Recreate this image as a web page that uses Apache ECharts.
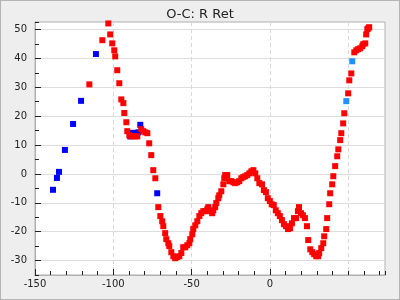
<!DOCTYPE html>
<html>
<head>
<meta charset="utf-8">
<script src="https://cdn.jsdelivr.net/npm/echarts@6/dist/echarts.min.js"></script>
<style>
html,body{margin:0;padding:0;background:#eeeeee;}
#c{width:400px;height:300px;box-sizing:border-box;border:1px solid #b4b4b4;}
</style>
</head>
<body>
<div id="c"></div>
<script>
const title = "O-C: R Ret";
const xTicks = [-150, -100, -50, 0, 50];
const yTicks = [-30, -20, -10, 0, 10, 20, 30, 40, 50];

const redX = [-115.3,-107.0,-103.2,-102.0,-100.7,-99.4,-98.8,-97.5,-96.2,-94.9,-93.6,-93.0,-91.7,-91.1,-89.8,-88.4,-86.0,-84.7,-82.2,-80.9,-79.6,-78.3,-77.1,-75.8,-74.5,-73.2,-71.3,-70.0,-68.8,-68.1,-66.9,-66.2,-64.9,-64.3,-63.0,-61.7,-60.5,-59.2,-57.9,-56.6,-55.4,-54.1,-52.8,-51.5,-50.9,-49.6,-49.0,-47.7,-46.4,-45.1,-43.9,-42.6,-41.3,-40.0,-39.4,-38.1,-36.9,-36.2,-35.0,-34.3,-33.0,-32.4,-31.1,-29.8,-29.2,-28.6,-27.3,-26.0,-24.7,-23.4,-22.2,-20.9,-19.6,-18.3,-17.0,-15.8,-14.5,-13.2,-11.9,-10.6,-9.4,-8.1,-6.8,-5.1,-3.9,-2.6,-1.4,-0.1,1.1,2.4,3.7,5.0,6.3,7.6,8.9,10.2,11.5,12.8,14.0,15.3,16.6,17.8,18.5,19.8,21.0,22.3,23.6,24.4,25.7,27.0,28.2,29.5,30.8,31.4,32.7,34.0,34.6,35.9,36.5,37.8,38.4,39.7,40.4,41.6,42.9,43.6,44.8,45.5,46.7,47.4,49.9,50.6,51.9,53.8,55.1,56.3,57.6,58.9,59.5,60.8,61.4,62.1,62.7,63.3];
const redY = [31.0,46.3,52.1,48.3,45.2,42.8,40.7,35.9,31.4,25.8,24.5,21.1,17.9,14.8,13.4,13.0,13.0,13.0,15.5,14.8,14.4,14.1,10.6,6.5,1.3,-1.5,-11.5,-14.6,-16.4,-18.1,-20.5,-22.6,-24.0,-25.0,-27.1,-28.5,-29.2,-28.8,-28.5,-27.4,-25.4,-25.4,-24.7,-24.0,-22.6,-20.9,-19.1,-17.8,-16.4,-14.6,-13.6,-12.9,-12.9,-12.2,-11.5,-12.9,-13.6,-12.6,-11.5,-10.1,-8.4,-7.4,-6.0,-3.6,-1.5,-0.4,-0.4,-2.5,-2.5,-2.9,-3.2,-2.9,-2.5,-1.5,-1.1,-0.8,-0.4,0.2,0.9,1.3,0.2,-1.5,-3.2,-3.6,-5.6,-6.3,-8.4,-9.4,-10.5,-10.8,-12.6,-13.6,-14.6,-16.0,-17.4,-18.1,-19.1,-18.8,-17.1,-15.3,-15.3,-12.9,-11.5,-13.6,-14.3,-15.3,-18.1,-22.9,-26.1,-27.1,-27.8,-28.5,-28.5,-27.4,-25.7,-24.0,-21.6,-19.1,-15.3,-10.5,-6.7,-3.6,-0.8,2.7,6.1,8.5,11.7,14.1,17.5,21.0,27.9,32.4,34.8,42.1,42.8,43.2,43.5,44.2,44.9,45.2,48.3,50.1,50.4,50.8];

const blueX = [-138.5,-136.0,-134.7,-130.9,-125.7,-120.6,-111.1,-89.2,-88.0,-86.5,-84.0,-82.8,-72.0];
const blueY = [-5.5,-1.4,0.7,8.3,17.3,25.3,41.5,13.0,14.2,14.2,14.4,17.0,-6.7];

const lightX = [48.7, 52.5];
const lightY = [25.2, 39.0];

function pairs(xs, ys){ return xs.map((x,i)=>[x, ys[i]]); }

const X_MIN = -150, X_MAX = 73.4, Y_MIN = -35, Y_MAX = 52.6;
const fontFam = 'DejaVu Sans';
const textCol = '#222';
const lineCol = '#b0b0b0';

const chart = echarts.init(document.getElementById('c'), null, {renderer:'canvas'});
chart.setOption({
  animation:false,
  backgroundColor:'#eeeeee',
  title:{text:title,left:'center',top:2,textStyle:{fontFamily:fontFam,fontSize:13,fontWeight:'normal',color:textCol}},
  grid:{left:34,right:14,top:21,bottom:24,show:true,backgroundColor:'#ffffff',borderColor:lineCol,borderWidth:1,z:0},
  xAxis:[
    {type:'value',min:X_MIN,max:X_MAX,interval:50,z:3,
     axisLine:{show:true,onZero:false,lineStyle:{color:lineCol}},
     axisTick:{show:true,inside:true,length:6,lineStyle:{color:'#222',width:1},customValues:xTicks},
     axisLabel:{customValues:xTicks,fontFamily:fontFam,fontSize:10,color:textCol,margin:4,showMaxLabel:false},
     splitLine:{show:true,lineStyle:{color:'#d8d8d8',type:[4,3],width:1}}},
    {type:'value',min:X_MIN,max:X_MAX,interval:10,position:'bottom',z:3,
     axisLine:{show:true,onZero:false,lineStyle:{color:lineCol}},
     axisTick:{show:true,inside:true,length:4,lineStyle:{color:'#222',width:1}},
     axisLabel:{show:false},splitLine:{show:false}}
  ],
  yAxis:[
    {type:'value',min:Y_MIN,max:Y_MAX,z:3,
     axisLine:{show:true,onZero:false,lineStyle:{color:lineCol}},
     axisTick:{show:true,inside:true,length:6,lineStyle:{color:'#222',width:1},customValues:yTicks},
     axisLabel:{customValues:yTicks,fontFamily:fontFam,fontSize:10,color:textCol,margin:8},
     splitLine:{show:true,lineStyle:{color:'#dddddd',width:1}}},
    {type:'value',min:Y_MIN,max:Y_MAX,interval:5,position:'left',z:3,
     axisLine:{show:true,onZero:false,lineStyle:{color:lineCol}},
     axisTick:{show:true,inside:true,length:4,lineStyle:{color:'#222',width:1}},
     axisLabel:{show:false},splitLine:{show:false}}
  ],
  series:[
    {type:'scatter',data:pairs(blueX,blueY),symbol:'rect',symbolSize:6,itemStyle:{color:'#0000ff',opacity:1},z:4},
    {type:'scatter',data:pairs(redX,redY),symbol:'rect',symbolSize:6,itemStyle:{color:'#ff0000',opacity:1},z:5},
    {type:'scatter',data:pairs(lightX,lightY),symbol:'rect',symbolSize:6,itemStyle:{color:'#1e90ff',opacity:1},z:6}
  ]
});
</script>
</body>
</html>
